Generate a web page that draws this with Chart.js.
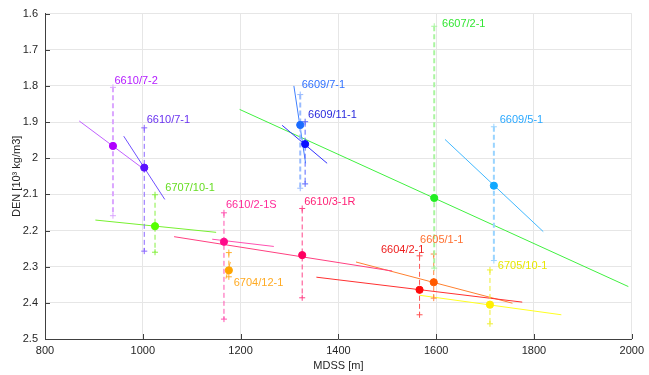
<!DOCTYPE html>
<html>
<head>
<meta charset="utf-8">
<script src="https://cdn.jsdelivr.net/npm/chart.js@4"></script>
<style>
  html, body { margin: 0; padding: 0; background: #fff; }
  #wrap { width: 649px; height: 375px; }
</style>
</head>
<body>
<div id="wrap"><canvas id="chart" width="649" height="375"></canvas></div>
<script>
// ==============================
// DATA
// ==============================
const wells = ["6610/7-2", "6610/7-1", "6707/10-1", "6610/2-1S", "6704/12-1", "6610/3-1R",
  "6609/7-1", "6609/11-1", "6607/2-1", "6609/5-1", "6604/2-1", "6605/1-1", "6705/10-1"];

// MDSS [m] and DEN [10^3 kg/m3] of each well
const mdss = [939, 1003, 1025, 1166, 1176, 1326, 1322, 1332, 1596, 1718, 1566, 1595, 1710];
const den = [1.966, 2.026, 2.188, 2.231, 2.310, 2.268, 1.908, 1.961, 2.110, 2.076, 2.364, 2.343, 2.405];

// range (error bar) ends
const denMin = [1.804, 1.916, 2.101, 2.151, 2.261, 2.139, 1.824, 1.899, 1.635, 1.913, 2.270, 2.265, 2.309];
const denMax = [2.159, 2.257, 2.260, 2.445, 2.328, 2.386, 2.083, 2.071, 2.304, 2.283, 2.433, 2.387, 2.458];

// trend lines: start / end
const trendX0 = [870, 961, 903, 1142, 1179, 1064, 1309, 1285, 1198, 1618, 1355, 1436, 1566];
const trendY0 = [1.897, 1.939, 2.171, 2.224, 2.287, 2.217, 1.800, 1.909, 1.865, 1.948, 2.329, 2.287, 2.379];
const trendX1 = [1002, 1045, 1150, 1268, 1170, 1510, 1333, 1377, 1993, 1819, 1776, 1756, 1856];
const trendY1 = [2.030, 2.114, 2.205, 2.244, 2.333, 2.312, 2.014, 2.014, 2.355, 2.203, 2.398, 2.401, 2.433];

// label anchors (left-middle of text, data units)
const labelX = [942, 1008, 1046, 1170, 1186, 1330, 1325, 1338, 1612, 1730, 1487, 1567, 1726];
const labelY = [1.785, 1.893, 2.083, 2.130, 2.346, 2.122, 1.797, 1.880, 1.630, 1.893, 2.255, 2.225, 2.298];

const xTicks = [800, 1000, 1200, 1400, 1600, 1800, 2000];
const yTicks = [1.6, 1.7, 1.8, 1.9, 2, 2.1, 2.2, 2.3, 2.4, 2.5];

// ==============================
// STYLES
// ==============================
const markColor = ["#b000ff", "#5a10ff", "#55ff00", "#ff0a8a", "#ffa500", "#ff0060",
  "#1a6bff", "#0a10ff", "#22ee22", "#10a8ff", "#ff0a0a", "#ff5a00", "#ffee00"];
const lineColor = ["#c060ff", "#7050ff", "#77f030", "#ff50b0", "#ffaa30", "#ff4080",
  "#4080ff", "#3030ff", "#40f040", "#40b8ff", "#ff3030", "#ff8030", "#ffff20"];
const barColor = ["#dba6ff", "#8a66ff", "#88f044", "#ff55b0", "#ffb030", "#ff4488",
  "#99bbff", "#5a66ff", "#aaf5a0", "#99d4ff", "#ff5555", "#ff8844", "#eeee33"];
const barWidth = [2, 1, 1, 1, 1, 1, 2, 1, 2, 2, 1, 1, 1];
const textColor = ["#b31aff", "#6a33f0", "#66dd22", "#ff2a99", "#ffaa22", "#ff2277",
  "#2f70ff", "#2a2add", "#33e633", "#2aa8ff", "#ee2020", "#ff7030", "#e8e800"];

// ==============================
// DATASETS
// ==============================
const datasets = [];
wells.forEach((w, i) => {
  datasets.push({
    label: w + " trend",
    data: [{ x: trendX0[i], y: trendY0[i] }, { x: trendX1[i], y: trendY1[i] }],
    showLine: true,
    borderColor: lineColor[i],
    borderWidth: 1,
    pointRadius: 0,
    order: 3,
  });
  datasets.push({
    label: w + " range",
    data: [{ x: mdss[i], y: denMin[i] }, { x: mdss[i], y: denMax[i] }],
    showLine: true,
    borderColor: barColor[i],
    borderWidth: barWidth[i],
    borderDash: [5, 3],
    pointStyle: "cross",
    pointRadius: 3,
    pointBorderWidth: 1,
    pointBorderColor: barColor[i],
    order: 2,
  });
  datasets.push({
    label: w,
    data: [{ x: mdss[i], y: den[i] }],
    pointRadius: 3.6,
    pointBackgroundColor: markColor[i],
    pointBorderColor: markColor[i],
    pointBorderWidth: 1,
    order: 1,
  });
});

// ==============================
// PLUGINS (labels + inner ticks)
// ==============================
const wellLabels = {
  id: "wellLabels",
  afterDatasetsDraw(chart) {
    const { ctx, scales } = chart;
    ctx.save();
    ctx.font = "11px 'Liberation Sans', Arial, sans-serif";
    ctx.textBaseline = "middle";
    ctx.textAlign = "left";
    wells.forEach((w, i) => {
      ctx.fillStyle = textColor[i];
      ctx.fillText(w, scales.x.getPixelForValue(labelX[i]), scales.y.getPixelForValue(labelY[i]));
    });
    ctx.restore();
  },
};

const innerTicks = {
  id: "innerTicks",
  afterDraw(chart) {
    const { ctx, chartArea, scales } = chart;
    ctx.save();
    ctx.strokeStyle = "#404040";
    ctx.lineWidth = 1;
    ctx.beginPath();
    xTicks.forEach((v) => {
      const px = Math.round(scales.x.getPixelForValue(v)) + 0.5;
      ctx.moveTo(px, chartArea.bottom);
      ctx.lineTo(px, chartArea.bottom - 5);
    });
    yTicks.forEach((v) => {
      const py = Math.round(scales.y.getPixelForValue(v)) + 0.5;
      ctx.moveTo(chartArea.left, py);
      ctx.lineTo(chartArea.left + 5, py);
    });
    ctx.stroke();
    ctx.restore();
  },
};

// ==============================
// CHART
// ==============================
const font = { family: "'Liberation Sans', Arial, sans-serif", size: 11 };

new Chart(document.getElementById("chart").getContext("2d"), {
  type: "scatter",
  data: { datasets },
  options: {
    responsive: false,
    animation: false,
    layout: { padding: { left: 0, right: 13, top: 13, bottom: 0 } },
    plugins: {
      legend: { display: false },
      tooltip: { enabled: false },
    },
    scales: {
      x: {
        type: "linear",
        min: 800,
        max: 2000,
        afterBuildTicks: (s) => { s.ticks = xTicks.map((v) => ({ value: v })); },
        afterFit: (s) => { s.height = 36; },
        ticks: { font, color: "#262626", padding: 5, callback: (v) => String(v) },
        grid: { color: "#e6e6e6", drawTicks: false },
        border: { color: "#404040" },
        title: { display: true, text: "MDSS [m]", font, color: "#262626", padding: { top: 2, bottom: 2 } },
      },
      y: {
        type: "linear",
        reverse: true,
        min: 1.6,
        max: 2.5,
        afterBuildTicks: (s) => { s.ticks = yTicks.map((v) => ({ value: v })); },
        afterFit: (s) => { s.width = 45; },
        ticks: {
          font,
          color: "#262626",
          padding: 7,
          callback: (v) => String(Number(v.toFixed(1))),
        },
        grid: { color: "#e6e6e6", drawTicks: false },
        border: { color: "#404040" },
        title: { display: true, text: "DEN [10³ kg/m3]", font, color: "#262626", padding: { top: 10, bottom: 0 } },
      },
    },
  },
  plugins: [wellLabels, innerTicks],
});
</script>
</body>
</html>
